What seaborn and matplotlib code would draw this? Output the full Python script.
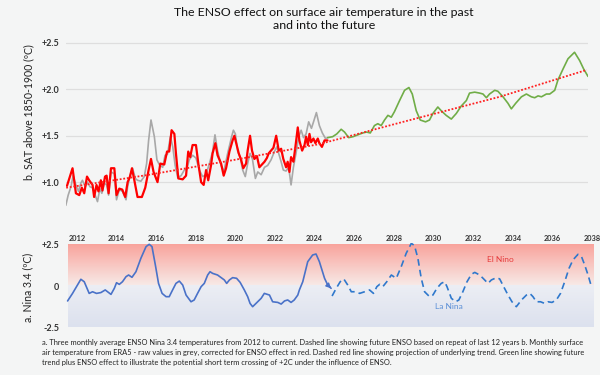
import numpy as np
import matplotlib
matplotlib.use("Agg")
import matplotlib.pyplot as plt
import seaborn as sns
from matplotlib.colors import LinearSegmentedColormap

sns.set_theme(style="white")
plt.rcParams['font.family'] = ['Lato', 'DejaVu Sans']

BG = '#f4f5f5'

# ---- b. surface air temperature (ERA5) ----
grey_years = [2011.44, 2011.56, 2011.70, 2011.81, 2011.95, 2012.08, 2012.20, 2012.28, 2012.42, 2012.54,
              2012.66, 2012.79, 2012.92, 2013.04, 2013.16, 2013.26, 2013.38, 2013.50, 2013.60, 2013.72,
              2013.89, 2014.00, 2014.14, 2014.30, 2014.48, 2014.56, 2014.68, 2014.81, 2014.95, 2015.06,
              2015.23, 2015.40, 2015.52, 2015.62, 2015.74, 2015.91, 2016.04, 2016.16, 2016.33, 2016.45,
              2016.57, 2016.72, 2016.84, 2016.96, 2017.09, 2017.26, 2017.42, 2017.55, 2017.67, 2017.84,
              2018.01, 2018.18, 2018.35, 2018.51, 2018.69, 2018.85, 2018.97, 2019.10, 2019.28, 2019.41,
              2019.61, 2019.81, 2019.90, 2020.00, 2020.12, 2020.24, 2020.37, 2020.50, 2020.62, 2020.74,
              2020.86, 2021.01, 2021.13, 2021.30, 2021.47, 2021.63, 2021.80, 2021.97, 2022.09, 2022.20,
              2022.31, 2022.42, 2022.56, 2022.69, 2022.81, 2022.93, 2023.06, 2023.20, 2023.32, 2023.44,
              2023.57, 2023.70, 2023.84, 2023.96, 2024.09, 2024.24, 2024.39, 2024.55, 2024.67]
grey_vals = [0.75, 0.86, 0.95, 1.07, 0.97, 0.90, 0.99, 1.02, 0.95, 1.00,
             0.95, 0.94, 0.86, 0.79, 0.93, 0.88, 0.99, 0.97, 0.86, 1.11,
             1.09, 0.81, 0.92, 0.90, 0.81, 0.95, 1.07, 1.15, 1.04, 1.02,
             1.01, 1.06, 1.20, 1.45, 1.67, 1.49, 1.24, 1.19, 1.16, 1.29,
             1.30, 1.49, 1.38, 1.18, 1.05, 1.07, 1.13, 1.14, 1.24, 1.29,
             1.26, 1.13, 1.06, 1.08, 1.20, 1.33, 1.51, 1.34, 1.18, 1.11,
             1.31, 1.49, 1.56, 1.52, 1.33, 1.27, 1.13, 1.06, 1.20, 1.31,
             1.25, 1.04, 1.11, 1.08, 1.16, 1.18, 1.24, 1.33, 1.38, 1.30,
             1.22, 1.13, 1.12, 1.16, 0.97, 1.16, 1.31, 1.49, 1.56, 1.48,
             1.52, 1.65, 1.58, 1.66, 1.75, 1.61, 1.53, 1.47, 1.48]

red_years = [2011.50, 2011.78, 2011.95, 2012.12, 2012.25, 2012.37, 2012.51, 2012.62, 2012.79, 2012.87,
             2012.99, 2013.09, 2013.21, 2013.29, 2013.42, 2013.50, 2013.60, 2013.72, 2013.89, 2014.00,
             2014.14, 2014.29, 2014.44, 2014.56, 2014.68, 2014.78, 2014.90, 2015.06, 2015.28, 2015.45,
             2015.62, 2015.74, 2015.87, 2016.07, 2016.21, 2016.41, 2016.55, 2016.66, 2016.78, 2016.92,
             2017.00, 2017.12, 2017.34, 2017.51, 2017.62, 2017.72, 2017.84, 2018.01, 2018.13, 2018.27,
             2018.40, 2018.52, 2018.63, 2018.77, 2018.85, 2018.99, 2019.10, 2019.28, 2019.41, 2019.53,
             2019.70, 2019.86, 2019.95, 2020.03, 2020.17, 2020.29, 2020.40, 2020.54, 2020.62, 2020.74,
             2020.84, 2020.96, 2021.09, 2021.21, 2021.34, 2021.47, 2021.59, 2021.68, 2021.80, 2021.92,
             2022.06, 2022.19, 2022.31, 2022.42, 2022.56, 2022.64, 2022.73, 2022.81, 2022.93, 2023.03,
             2023.15, 2023.23, 2023.37, 2023.49, 2023.57, 2023.66, 2023.74, 2023.82, 2023.94, 2024.04,
             2024.16, 2024.24, 2024.37, 2024.50, 2024.65]
red_vals = [0.96, 1.15, 0.88, 0.86, 0.94, 0.88, 1.06, 1.02, 0.97, 0.84,
            0.97, 0.90, 1.02, 0.91, 1.06, 1.07, 0.88, 1.15, 1.15, 0.86,
            0.93, 0.92, 0.84, 1.00, 1.06, 1.15, 1.02, 0.84, 0.84, 0.94,
            1.13, 1.25, 1.11, 1.00, 1.20, 1.19, 1.33, 1.33, 1.56, 1.52,
            1.31, 1.04, 1.03, 1.07, 1.33, 1.27, 1.40, 1.40, 1.20, 1.00,
            0.97, 1.13, 1.02, 1.18, 1.31, 1.42, 1.29, 1.20, 1.07, 1.15,
            1.33, 1.45, 1.50, 1.43, 1.31, 1.24, 1.15, 1.20, 1.34, 1.50,
            1.34, 1.25, 1.28, 1.16, 1.19, 1.22, 1.26, 1.31, 1.34, 1.37,
            1.50, 1.34, 1.36, 1.25, 1.16, 1.22, 1.11, 1.27, 1.22, 1.38,
            1.59, 1.45, 1.34, 1.40, 1.49, 1.40, 1.52, 1.43, 1.47, 1.42,
            1.47, 1.42, 1.38, 1.45, 1.45]

green_years = [2024.66, 2024.91, 2025.12, 2025.34, 2025.51, 2025.72, 2025.94, 2026.18, 2026.43, 2026.62,
               2026.81, 2027.02, 2027.19, 2027.36, 2027.53, 2027.70, 2027.87, 2028.03, 2028.29, 2028.54,
               2028.76, 2028.93, 2029.13, 2029.33, 2029.60, 2029.80, 2029.97, 2030.22, 2030.39, 2030.64,
               2030.90, 2031.15, 2031.40, 2031.66, 2031.82, 2032.08, 2032.33, 2032.50, 2032.67, 2032.83,
               2033.09, 2033.25, 2033.51, 2033.76, 2033.93, 2034.15, 2034.44, 2034.69, 2034.94, 2035.11,
               2035.28, 2035.45, 2035.70, 2035.87, 2036.12, 2036.28, 2036.54, 2036.79, 2037.12, 2037.38,
               2037.58, 2037.80]
green_vals = [1.48, 1.49, 1.52, 1.57, 1.54, 1.48, 1.49, 1.51, 1.53, 1.54,
              1.53, 1.61, 1.63, 1.61, 1.67, 1.72, 1.70, 1.76, 1.88, 1.99,
              2.02, 1.95, 1.77, 1.67, 1.65, 1.67, 1.74, 1.81, 1.77, 1.72,
              1.68, 1.74, 1.82, 1.88, 1.96, 1.97, 1.96, 1.95, 1.91, 1.95,
              1.99, 1.98, 1.92, 1.85, 1.79, 1.85, 1.92, 1.95, 1.92, 1.91,
              1.93, 1.92, 1.95, 1.95, 1.99, 2.10, 2.22, 2.33, 2.40, 2.31,
              2.22, 2.14]

trend_years = [2011.46, 2015.65, 2019.95, 2024.24, 2028.29, 2033.34, 2037.74]
trend_vals = [0.94, 1.08, 1.24, 1.41, 1.64, 1.92, 2.21]

# ---- a. Nina 3.4, observed and repeated ----
nino_years = [2011.53, 2011.78, 2011.98, 2012.20, 2012.37, 2012.62, 2012.79, 2012.99, 2013.21, 2013.43,
              2013.72, 2013.89, 2014.00, 2014.14, 2014.30, 2014.48, 2014.61, 2014.78, 2014.98, 2015.23,
              2015.49, 2015.65, 2015.79, 2015.96, 2016.12, 2016.30, 2016.50, 2016.66, 2016.83, 2017.00,
              2017.17, 2017.34, 2017.51, 2017.76, 2017.92, 2018.09, 2018.27, 2018.43, 2018.60, 2018.72,
              2018.85, 2019.10, 2019.44, 2019.56, 2019.70, 2019.86, 2020.06, 2020.24, 2020.45, 2020.62,
              2020.74, 2020.87, 2021.04, 2021.30, 2021.46, 2021.72, 2021.88, 2022.14, 2022.31, 2022.48,
              2022.64, 2022.81, 2022.97, 2023.15, 2023.23, 2023.40, 2023.65, 2023.90, 2024.07, 2024.24,
              2024.50, 2024.66, 2024.83]
nino_vals = [-0.91, -0.45, -0.04, 0.41, 0.26, -0.45, -0.35, -0.45, -0.40, -0.24,
             -0.51, -0.14, 0.20, 0.10, 0.26, 0.57, 0.67, 0.53, 0.87, 1.69,
             2.40, 2.54, 2.40, 1.28, 0.16, -0.45, -0.65, -0.65, -0.24, 0.16,
             0.30, 0.06, -0.55, -0.96, -0.85, -0.45, -0.04, 0.16, 0.67, 0.87,
             0.77, 0.67, 0.37, 0.16, 0.37, 0.51, 0.47, 0.22, -0.24, -0.65,
             -1.06, -1.26, -1.06, -0.75, -0.45, -0.55, -0.96, -1.00, -1.10, -0.91,
             -0.85, -1.00, -0.85, -0.55, -0.24, 0.26, 1.48, 1.89, 1.95, 1.48,
             0.47, 0.06, -0.14]

future_years = [2024.88, 2025.09, 2025.29, 2025.47, 2025.67, 2025.85, 2026.10, 2026.27, 2026.52, 2026.77,
                2026.97, 2027.14, 2027.28, 2027.44, 2027.64, 2027.87, 2028.12, 2028.37, 2028.62, 2028.88,
                2029.04, 2029.21, 2029.38, 2029.55, 2029.80, 2029.97, 2030.17, 2030.39, 2030.56, 2030.68,
                2030.90, 2031.12, 2031.28, 2031.48, 2031.69, 2031.91, 2032.08, 2032.33, 2032.50, 2032.75,
                2032.92, 2033.18, 2033.34, 2033.54, 2033.76, 2033.96, 2034.18, 2034.44, 2034.69, 2034.86,
                2035.02, 2035.19, 2035.40, 2035.61, 2035.78, 2035.98, 2036.20, 2036.41, 2036.62, 2036.84,
                2037.04, 2037.29, 2037.47, 2037.63, 2037.80, 2037.97]
future_vals = [-0.61, -0.14, 0.26, 0.43, 0.06, -0.35, -0.35, -0.45, -0.35, -0.24,
               -0.45, -0.04, 0.10, -0.04, 0.26, 0.67, 0.47, 1.18, 1.99, 2.60,
               2.46, 1.69, 0.47, -0.35, -0.65, -0.55, -0.14, 0.16, 0.26, -0.04,
               -0.75, -0.96, -0.85, -0.35, 0.26, 0.71, 0.83, 0.67, 0.47, 0.16,
               0.37, 0.51, 0.43, -0.04, -0.55, -0.96, -1.26, -0.85, -0.55, -0.45,
               -0.65, -0.96, -0.96, -1.06, -0.96, -1.00, -0.85, -0.45, 0.26, 1.08,
               1.59, 1.93, 1.79, 1.28, 0.67, -0.04]

sat_ticks = [1.0, 1.5, 2.0, 2.5]
sat_labels = ['+1.0', '+1.5', '+2.0', '+2.5']
nino_ticks = [-2.5, 0, 2.5]
nino_labels = ['-2.5', '0', '+2.5']
year_ticks = list(range(2012, 2039, 2))

title = 'The ENSO effect on surface air temperature in the past\nand into the future'
caption = ('a. Three monthly average ENSO Nina 3.4 temperatures from 2012 to current. Dashed line showing future ENSO based on repeat of last 12 years b. Monthly surface\n'
           'air temperature from ERA5 - raw values in grey, corrected for ENSO effect in red. Dashed red line showing projection of underlying trend. Green line showing future\n'
           'trend plus ENSO effect to illustrate the potential short term crossing of +2C under the influence of ENSO.')

fig = plt.figure(figsize=(6, 3.75), dpi=100, facecolor=BG)

# ---------- top panel ----------
ax1 = fig.add_axes([66/600, 0.40, (588-66)/600, 200/375])
ax1.set_facecolor(BG)
ax1.set_xlim(2011.45, 2037.8)
ax1.set_ylim(0.538, 2.694)
for v in sat_ticks:
    ax1.axhline(v, color='#dedede', lw=0.9, zorder=0)
sns.lineplot(x=grey_years, y=grey_vals, ax=ax1, color='#a8a8a8', linewidth=1.2, zorder=2)
sns.lineplot(x=red_years, y=red_vals, ax=ax1, color='#ff0000', linewidth=1.6, zorder=3)
sns.lineplot(x=green_years, y=green_vals, ax=ax1, color='#70ad47', linewidth=1.2, zorder=3)
sns.lineplot(x=trend_years, y=trend_vals, ax=ax1, color='#ff2020', linewidth=1.3,
             linestyle=(0, (1, 1)), zorder=4)
ax1.set_yticks(sat_ticks)
ax1.set_yticklabels(sat_labels, fontsize=6.5, fontweight='bold', color='#333333')
ax1.set_xticks([])
ax1.tick_params(axis='y', length=0, pad=5)
ax1.set_ylabel('b. SAT above 1850-1900 (ºC)', fontsize=7.6, color='#222222')
ax1.yaxis.set_label_coords(-0.061, 0.565)
for s in ax1.spines.values():
    s.set_visible(False)

# ---------- bottom panel ----------
ax2 = fig.add_axes([66/600, 0.12, 528/600, 87/375])
ax2.set_facecolor(BG)
ax2.set_xlim(2011.45, 2038.1)
ax2.set_ylim(-2.68, 2.62)
red_cmap = LinearSegmentedColormap.from_list('nino', ['#f7ebe8', '#f9a39c'])
blue_cmap = LinearSegmentedColormap.from_list('nina', ['#dce1ee', '#eceef4'])
grad = np.linspace(0, 1, 256).reshape(-1, 1)
ax2.imshow(grad, cmap=red_cmap, origin='lower', aspect='auto',
           extent=[2011.55, 2038.05, 0, 2.5], zorder=0)
ax2.imshow(grad, cmap=blue_cmap, origin='lower', aspect='auto',
           extent=[2011.55, 2038.05, -2.5, 0], zorder=0)
sns.lineplot(x=nino_years, y=nino_vals, ax=ax2, color='#4a72c8', linewidth=1.2, zorder=3)
ax2.annotate('', xy=(nino_years[-1], nino_vals[-1]), xytext=(nino_years[-2], nino_vals[-2]),
             arrowprops=dict(arrowstyle='-|>', color='#4a72c8', lw=1.0, mutation_scale=7), zorder=3)
sns.lineplot(x=future_years, y=future_vals, ax=ax2, color='#2f78cc', linewidth=1.2,
             linestyle=(0, (4, 2.5)), zorder=3)
ax2.text(2033.35, 1.6, 'El Nino', color='#e63b3b', fontsize=6, ha='center', va='center', zorder=4)
ax2.text(2030.8, -1.25, 'La Nina', color='#5b8fd6', fontsize=6, ha='center', va='center', zorder=4)
ax2.set_yticks(nino_ticks)
ax2.set_yticklabels(nino_labels, fontsize=6.5, fontweight='bold', color='#333333')
ax2.xaxis.tick_top()
ax2.set_xticks(year_ticks)
ax2.set_xticklabels([str(y) for y in year_ticks], fontsize=5.3, fontweight='bold', color='#333333')
ax2.tick_params(axis='both', length=0)
ax2.tick_params(axis='y', pad=5)
ax2.tick_params(axis='x', pad=1)
ax2.set_ylabel('a. Nina 3.4 (ºC)', fontsize=7.6, color='#222222')
ax2.yaxis.set_label_coords(-0.061, 0.49)
for s in ax2.spines.values():
    s.set_visible(False)

fig.text(0.54, 0.982, title, ha='center', va='top', fontsize=8.9, color='#111111', linespacing=1.25)
fig.text(0.07, 0.095, caption, ha='left', va='top', fontsize=5.4, color='#222222', linespacing=1.5)

fig.savefig('out.png', dpi=100, facecolor=BG)
